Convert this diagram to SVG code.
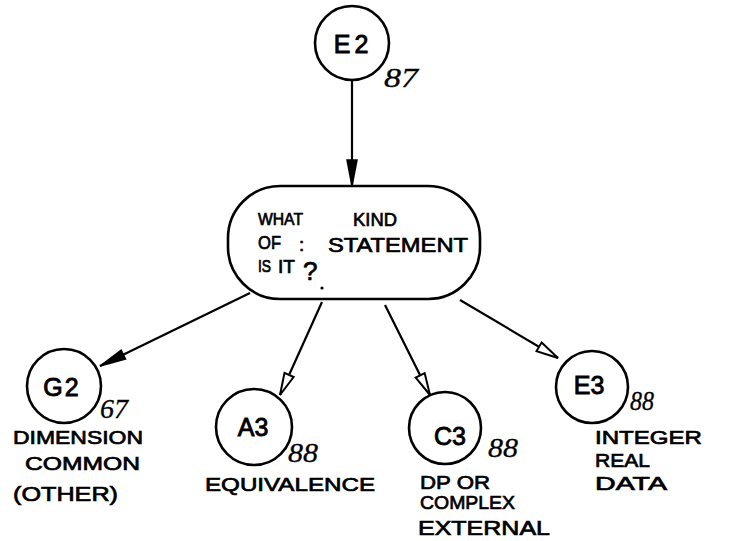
<svg xmlns="http://www.w3.org/2000/svg" width="734" height="541" viewBox="0 0 734 541">
  <style>
    .shape { fill: none; stroke: #000; stroke-width: 2.6; }
    .edge { fill: none; stroke: #000; stroke-width: 2.2; }
    .id { font-family: "Liberation Sans", Arial, sans-serif; font-size: 25px; fill: #000; stroke: #000; stroke-width: 0.9; text-anchor: middle; }
    .lbl { font-family: "Liberation Sans", Arial, sans-serif; font-size: 19px; fill: #000; stroke: #000; stroke-width: 0.7; }
    .num { font-family: "Liberation Serif", "Times New Roman", serif; font-style: italic; font-size: 27px; fill: #000; stroke: #000; stroke-width: 0.3; }
  </style>
  <defs>
    <marker id="headFilled" markerUnits="userSpaceOnUse" markerWidth="34" markerHeight="18" viewBox="0 0 34 18" refX="30" refY="9" orient="auto">
      <path d="M4,4 L30,9 L4,14 Z" fill="#000" stroke="#000" stroke-width="1.5"/>
    </marker>
    <marker id="headOpen" markerUnits="userSpaceOnUse" markerWidth="34" markerHeight="18" viewBox="0 0 34 18" refX="30" refY="9" orient="auto">
      <path d="M8,4 L30,9 L8,14 Z" fill="#fff" stroke="#000" stroke-width="2"/>
    </marker>
  </defs>

  <g id="connectors">
    <line class="edge" x1="352" y1="80" x2="352" y2="186" marker-end="url(#headFilled)"/>
    <line class="edge" x1="250" y1="293" x2="100" y2="366" marker-end="url(#headFilled)"/>
    <line class="edge" x1="322" y1="302" x2="280" y2="395" marker-end="url(#headOpen)"/>
    <line class="edge" x1="385" y1="305" x2="430" y2="395" marker-end="url(#headOpen)"/>
    <line class="edge" x1="460" y1="300" x2="558" y2="358" marker-end="url(#headOpen)"/>
  </g>

  <g id="E2">
    <circle class="shape" cx="352" cy="43" r="37"/>
    <text class="id" x="353" y="53" letter-spacing="4">E2</text>
    <text class="num" x="384" y="87" textLength="34" lengthAdjust="spacingAndGlyphs">87</text>
  </g>

  <g id="decision">
    <rect class="shape" x="228" y="186" width="252" height="113" rx="52" ry="52"/>
    <text class="lbl" x="258" y="225" textLength="45" lengthAdjust="spacingAndGlyphs" style="font-size:16px">WHAT</text>
    <text class="lbl" x="353" y="226" textLength="44" lengthAdjust="spacingAndGlyphs" style="font-size:19px">KIND</text>
    <text class="lbl" x="258" y="249" textLength="23" lengthAdjust="spacingAndGlyphs" style="font-size:18px">OF</text>
    <text class="lbl" x="299" y="251">:</text>
    <text class="lbl" x="328" y="252" textLength="140" lengthAdjust="spacingAndGlyphs" style="font-size:21px">STATEMENT</text>
    <text class="lbl" x="258" y="272" textLength="13" lengthAdjust="spacingAndGlyphs" style="font-size:17px">IS</text>
    <text class="lbl" x="278" y="273" textLength="17" lengthAdjust="spacingAndGlyphs" style="font-size:18px">IT</text>
    <text class="lbl" x="303" y="280" style="font-size:26px">?</text>
    <circle cx="322" cy="288" r="1.6" fill="#000"/>
  </g>

  <g id="G2">
    <circle class="shape" cx="64" cy="386" r="37"/>
    <text class="id" x="62" y="396" letter-spacing="2">G2</text>
    <text class="num" x="100" y="418" textLength="28" lengthAdjust="spacingAndGlyphs">67</text>
    <text class="lbl" x="13" y="444" textLength="130" lengthAdjust="spacingAndGlyphs">DIMENSION</text>
    <text class="lbl" x="25" y="470" textLength="115" lengthAdjust="spacingAndGlyphs">COMMON</text>
    <text class="lbl" x="13" y="501" textLength="105" lengthAdjust="spacingAndGlyphs" style="font-size:21px">(OTHER)</text>
  </g>

  <g id="A3">
    <circle class="shape" cx="254" cy="427" r="38"/>
    <text class="id" x="253" y="436">A3</text>
    <text class="num" x="288" y="462" textLength="30" lengthAdjust="spacingAndGlyphs">88</text>
    <text class="lbl" x="205" y="491" textLength="170" lengthAdjust="spacingAndGlyphs">EQUIVALENCE</text>
  </g>

  <g id="C3">
    <circle class="shape" cx="445" cy="428" r="36"/>
    <text class="id" x="450" y="445">C3</text>
    <text class="num" x="488" y="457" textLength="30" lengthAdjust="spacingAndGlyphs">88</text>
    <text class="lbl" x="420" y="489" textLength="70" lengthAdjust="spacingAndGlyphs">DP OR</text>
    <text class="lbl" x="420" y="509" textLength="95" lengthAdjust="spacingAndGlyphs">COMPLEX</text>
    <text class="lbl" x="418" y="535" textLength="132" lengthAdjust="spacingAndGlyphs" style="font-size:20px">EXTERNAL</text>
  </g>

  <g id="E3">
    <circle class="shape" cx="592" cy="387" r="36"/>
    <text class="id" x="589" y="394">E3</text>
    <text class="num" x="630" y="410" textLength="24" lengthAdjust="spacingAndGlyphs">88</text>
    <text class="lbl" x="595" y="444" textLength="107" lengthAdjust="spacingAndGlyphs">INTEGER</text>
    <text class="lbl" x="595" y="467" textLength="55" lengthAdjust="spacingAndGlyphs">REAL</text>
    <text class="lbl" x="595" y="490" textLength="72" lengthAdjust="spacingAndGlyphs">DATA</text>
  </g>
</svg>
